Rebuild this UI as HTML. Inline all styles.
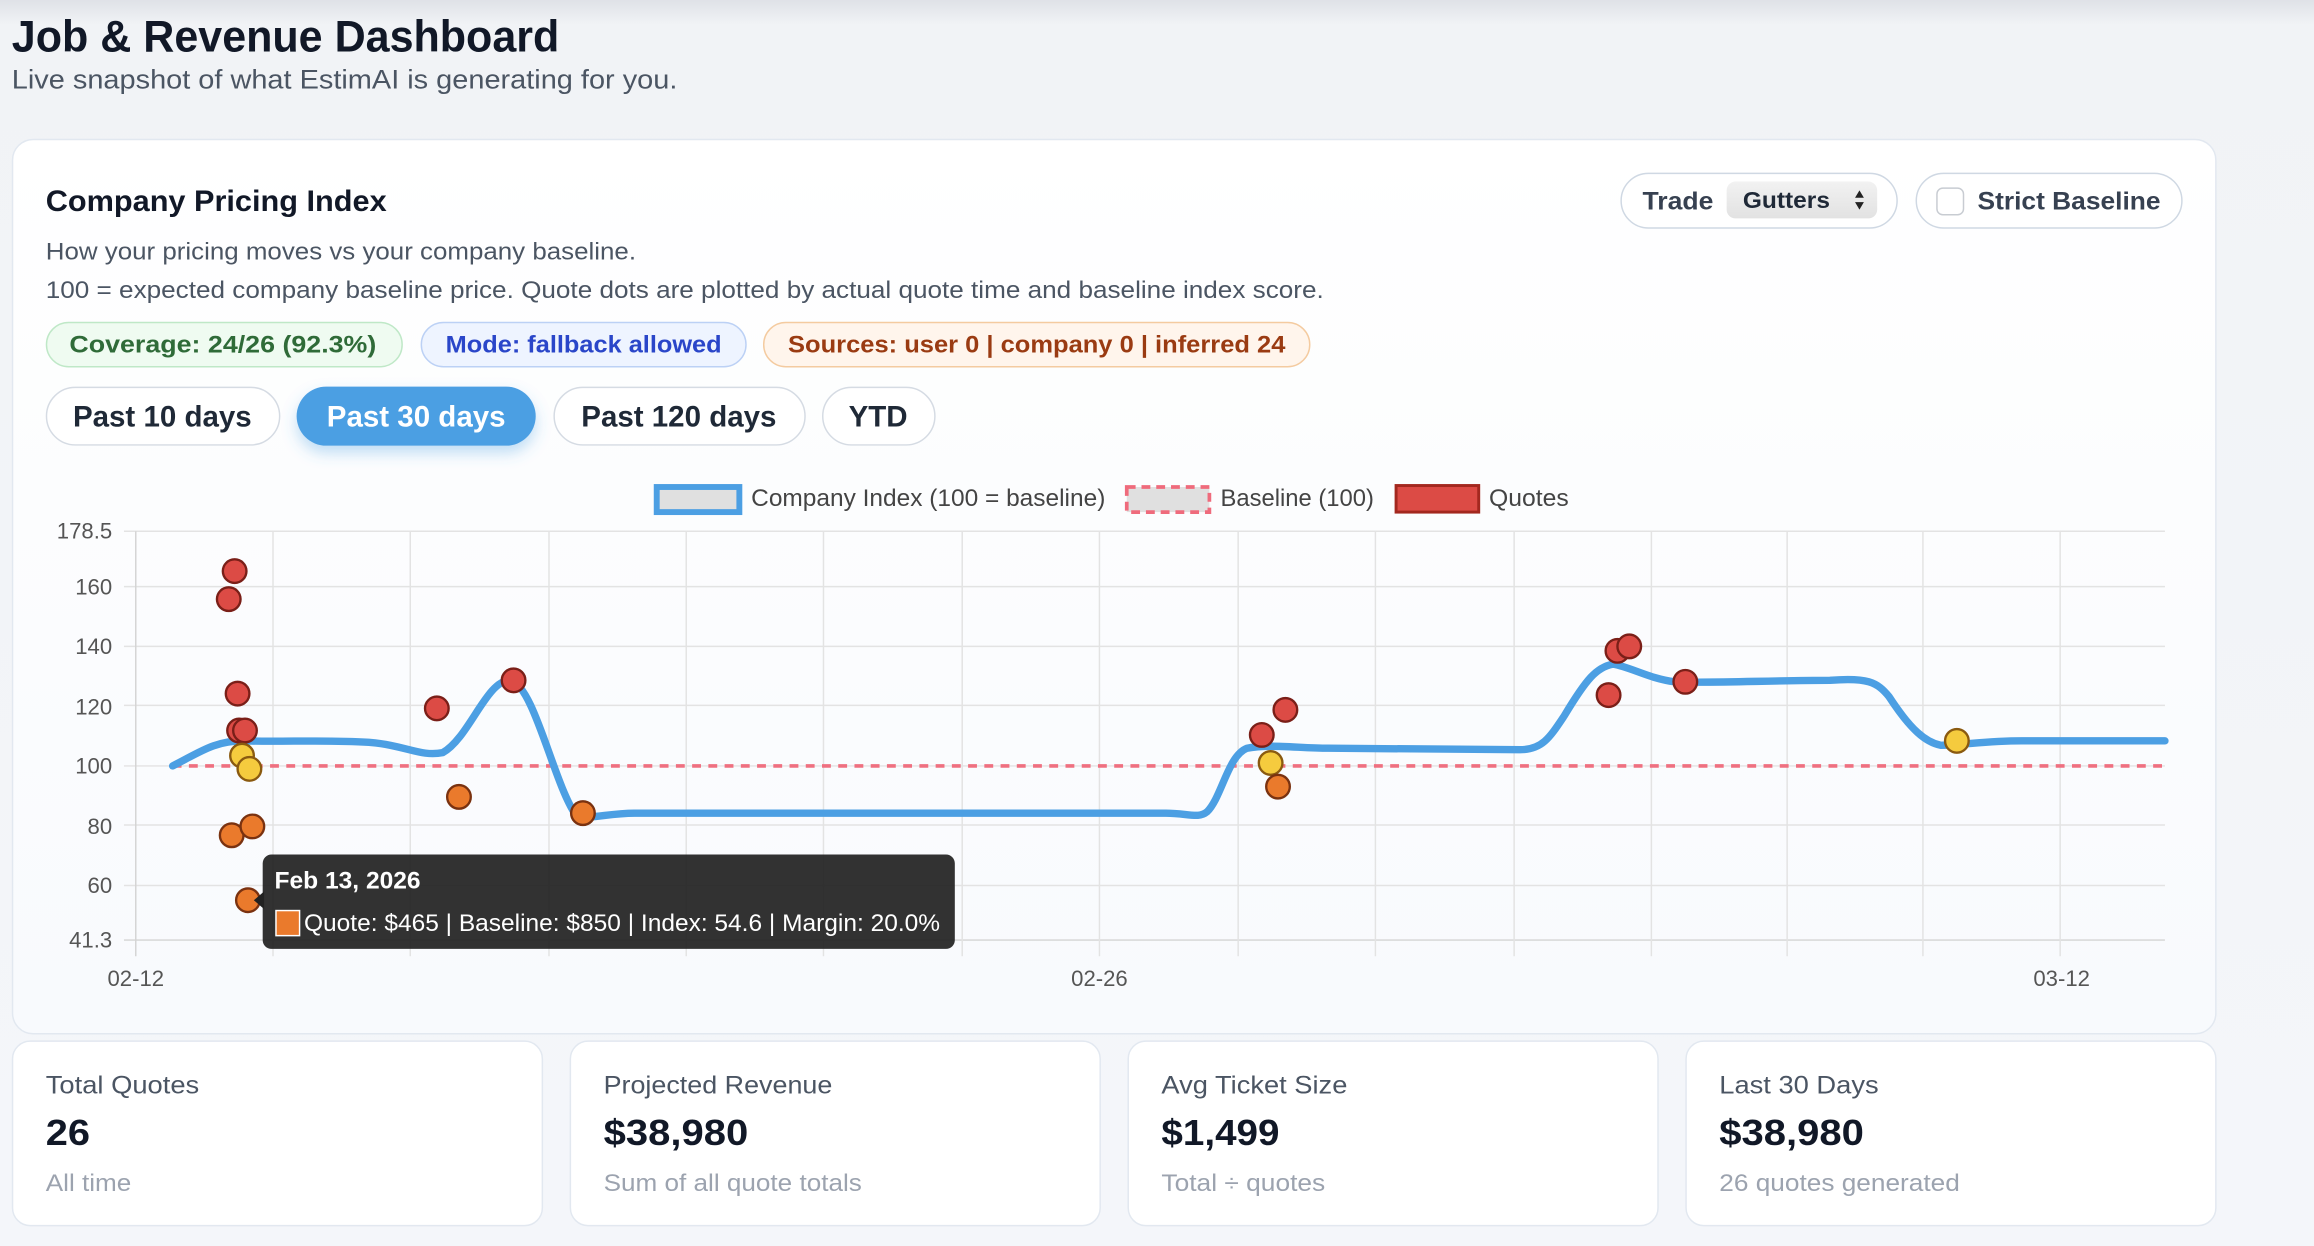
<!DOCTYPE html>
<html><head><meta charset="utf-8"><style>
html,body{margin:0;padding:0;width:2314px;height:1246px;overflow:hidden;background:#f5f7fa}
svg{display:block}
text{font-family:"Liberation Sans",sans-serif}
</style></head><body>
<svg width="2314" height="1246" viewBox="0 0 1568 844.3" xmlns="http://www.w3.org/2000/svg">
<defs>
<linearGradient id="bg" x1="0" y1="0" x2="0" y2="1"><stop offset="0" stop-color="#dfe2e7"/><stop offset="0.02" stop-color="#f1f3f6"/><stop offset="1" stop-color="#f4f6fa"/></linearGradient>
<linearGradient id="card" x1="0" y1="0" x2="0" y2="1"><stop offset="0" stop-color="#ffffff"/><stop offset="1" stop-color="#f8fafd"/></linearGradient>
<linearGradient id="sel" x1="0" y1="0" x2="0" y2="1"><stop offset="0" stop-color="#f2f2f2"/><stop offset="1" stop-color="#e2e2e2"/></linearGradient>
<filter id="sh" x="-30%" y="-50%" width="160%" height="220%"><feDropShadow dx="0" dy="5" stdDeviation="5" flood-color="#4c9fe3" flood-opacity="0.35"/></filter>
</defs>
<rect width="1568" height="844.3" fill="url(#bg)"/>
<text x="8" y="35" font-size="30" font-weight="700" fill="#111827" textLength="371" lengthAdjust="spacingAndGlyphs">Job &amp; Revenue Dashboard</text>
<text x="8" y="60" font-size="18" fill="#4b5563" textLength="451" lengthAdjust="spacingAndGlyphs">Live snapshot of what EstimAI is generating for you.</text>

<rect x="8.5" y="94.5" width="1493" height="606" rx="14" fill="url(#card)" stroke="#e2e8f0"/>
<text x="31" y="143" font-size="20" font-weight="700" fill="#111827" textLength="231" lengthAdjust="spacingAndGlyphs">Company Pricing Index</text>
<text x="31" y="176" font-size="16.5" fill="#4b5563" textLength="400" lengthAdjust="spacingAndGlyphs">How your pricing moves vs your company baseline.</text>
<text x="31" y="202" font-size="16.5" fill="#4b5563" textLength="866" lengthAdjust="spacingAndGlyphs">100 = expected company baseline price. Quote dots are plotted by actual quote time and baseline index score.</text>

<rect x="31.5" y="218.5" width="241" height="30" rx="15" fill="#effbf1" stroke="#bfe8c7"/>
<text x="47" y="239" font-size="16.5" font-weight="600" fill="#2f6b38" textLength="208" lengthAdjust="spacingAndGlyphs">Coverage: 24/26 (92.3%)</text>
<rect x="285.5" y="218.5" width="220" height="30" rx="15" fill="#eef4ff" stroke="#bcd1f5"/>
<text x="302" y="239" font-size="16.5" font-weight="600" fill="#2a46c9" textLength="187" lengthAdjust="spacingAndGlyphs">Mode: fallback allowed</text>
<rect x="517.5" y="218.5" width="370" height="30" rx="15" fill="#fff5ec" stroke="#f4cba0"/>
<text x="534" y="239" font-size="16.5" font-weight="600" fill="#9a3b12" textLength="337" lengthAdjust="spacingAndGlyphs">Sources: user 0 | company 0 | inferred 24</text>

<rect x="31.5" y="262.5" width="158" height="39" rx="19.5" fill="#fff" stroke="#d5dbe3"/>
<text x="110" y="289" font-size="20" font-weight="600" fill="#1f2937" text-anchor="middle">Past 10 days</text>
<rect x="201" y="262" width="162" height="40" rx="20" fill="#4c9fe3" filter="url(#sh)"/>
<text x="282" y="289" font-size="20" font-weight="600" fill="#fff" text-anchor="middle">Past 30 days</text>
<rect x="375.5" y="262.5" width="170" height="39" rx="19.5" fill="#fff" stroke="#d5dbe3"/>
<text x="460" y="289" font-size="20" font-weight="600" fill="#1f2937" text-anchor="middle">Past 120 days</text>
<rect x="557.5" y="262.5" width="76" height="39" rx="19.5" fill="#fff" stroke="#d5dbe3"/>
<text x="595" y="289" font-size="20" font-weight="600" fill="#1f2937" text-anchor="middle">YTD</text>

<rect x="1098.5" y="117.5" width="187" height="37" rx="18.5" fill="#fff" stroke="#cfd8e3"/>
<text x="1113" y="142" font-size="17" font-weight="600" fill="#374151" textLength="48" lengthAdjust="spacingAndGlyphs">Trade</text>
<rect x="1170" y="123" width="102" height="25" rx="6" fill="url(#sel)"/>
<text x="1181" y="141" font-size="15.5" font-weight="700" fill="#1f2937" textLength="59" lengthAdjust="spacingAndGlyphs">Gutters</text>
<path d="M1257 134 l3 -5 l3 5z M1257 137 l3 5 l3 -5z" fill="#222"/>
<rect x="1298.5" y="117.5" width="180" height="37" rx="18.5" fill="#fff" stroke="#cfd8e3"/>
<rect x="1312.5" y="127.5" width="18" height="18" rx="4" fill="#fff" stroke="#c8ccd2"/>
<text x="1340" y="142" font-size="17" font-weight="600" fill="#374151" textLength="124" lengthAdjust="spacingAndGlyphs">Strict Baseline</text>

<!-- legend -->
<rect x="445" y="330" width="56" height="17" fill="#e0e0e0" stroke="#4c9fe3" stroke-width="4"/>
<text x="509" y="343" font-size="16" fill="#444" textLength="240" lengthAdjust="spacingAndGlyphs">Company Index (100 = baseline)</text>
<rect x="763.5" y="330" width="56" height="17" fill="#e0e0e0" stroke="#ef6b7c" stroke-width="2.5" stroke-dasharray="6 4"/>
<text x="827" y="343" font-size="16" fill="#444" textLength="104" lengthAdjust="spacingAndGlyphs">Baseline (100)</text>
<rect x="946" y="329" width="56" height="18" fill="#dc4b45" stroke="#a3281f" stroke-width="2"/>
<text x="1009" y="343" font-size="16" fill="#444" textLength="54" lengthAdjust="spacingAndGlyphs">Quotes</text>

<!-- grid -->
<g stroke="#e3e3e3" stroke-width="1">
<line x1="84" y1="360" x2="1467" y2="360"/>
<line x1="84" y1="397.5" x2="1467" y2="397.5"/>
<line x1="84" y1="438" x2="1467" y2="438"/>
<line x1="84" y1="478" x2="1467" y2="478"/>
<line x1="84" y1="519" x2="1467" y2="519"/>
<line x1="84" y1="559" x2="1467" y2="559"/>
<line x1="84" y1="600" x2="1467" y2="600"/>
<line x1="84" y1="637" x2="1467" y2="637" stroke="#d4d4d4"/>
</g>
<g stroke="#e3e3e3" stroke-width="1">
<line x1="92" y1="360" x2="92" y2="648" stroke="#d4d4d4"/>
<line x1="185" y1="360" x2="185" y2="648"/><line x1="278" y1="360" x2="278" y2="648"/>
<line x1="372" y1="360" x2="372" y2="648"/><line x1="465" y1="360" x2="465" y2="648"/>
<line x1="558" y1="360" x2="558" y2="648"/><line x1="652" y1="360" x2="652" y2="648"/>
<line x1="745" y1="360" x2="745" y2="648"/><line x1="839" y1="360" x2="839" y2="648"/>
<line x1="932" y1="360" x2="932" y2="648"/><line x1="1026" y1="360" x2="1026" y2="648"/>
<line x1="1119" y1="360" x2="1119" y2="648"/><line x1="1211" y1="360" x2="1211" y2="648"/>
<line x1="1303" y1="360" x2="1303" y2="648"/><line x1="1396" y1="360" x2="1396" y2="648"/>
</g>
<g font-size="15" fill="#555" text-anchor="end">
<text x="76" y="365">178.5</text><text x="76" y="403">160</text><text x="76" y="443">140</text>
<text x="76" y="484">120</text><text x="76" y="524">100</text><text x="76" y="565">80</text>
<text x="76" y="605">60</text><text x="76" y="642">41.3</text>
</g>
<g font-size="15" fill="#555" text-anchor="middle">
<text x="92" y="668">02-12</text><text x="745" y="668">02-26</text><text x="1397" y="668">03-12</text>
</g>

<line x1="117" y1="519" x2="1467" y2="519" stroke="#ef7080" stroke-width="2.5" stroke-dasharray="6 5"/>
<path d="M117 519 C135 510 145 502 165 502 C190 503 220 501 250 503 C275 505 285 513 300 510 C318 500 330 460 346 461 C362 465 375 530 390 552 C400 556 410 551 430 551 L790 551 C805 551 812 555 818 550 C828 540 832 512 845 507 C860 504 880 507 900 507 L1030 508 C1045 508 1050 500 1060 485 C1075 460 1082 452 1093 450 C1105 452 1118 460 1135 462 C1160 463 1200 461 1240 461 C1265 459 1272 462 1280 472 C1295 495 1305 503 1315 505 C1330 505 1345 502 1370 502 L1467 502" fill="none" stroke="#4c9fe3" stroke-width="5" stroke-linejoin="round" stroke-linecap="round"/>

<g stroke-width="1.6">
<g fill="#dc4b45" stroke="#7a1f18">
<circle cx="159" cy="387" r="8"/><circle cx="155" cy="406" r="8"/><circle cx="161" cy="470" r="8"/>
<circle cx="162" cy="495" r="8"/><circle cx="166" cy="495" r="8"/>
<circle cx="296" cy="480" r="8"/><circle cx="348" cy="461" r="8"/>
<circle cx="855" cy="498" r="8"/><circle cx="871" cy="481" r="8"/>
<circle cx="1096" cy="441" r="8"/><circle cx="1104" cy="438" r="8"/><circle cx="1090" cy="471" r="8"/><circle cx="1142" cy="462" r="8"/>
</g>
<g fill="#f5cb3e" stroke="#8a5a10">
<circle cx="164" cy="512" r="8"/><circle cx="169" cy="521" r="8"/><circle cx="861" cy="517" r="8"/><circle cx="1326" cy="502" r="8"/>
</g>
<g fill="#ea7a2c" stroke="#7a3210">
<circle cx="157" cy="566" r="8"/><circle cx="171" cy="560" r="8"/><circle cx="168" cy="610" r="8"/>
<circle cx="311" cy="540" r="8"/><circle cx="395" cy="551" r="8"/><circle cx="866" cy="533" r="8"/>
</g>
</g>

<!-- tooltip -->
<path d="M172 610 L179 604 L179 616z" fill="#222"/>
<rect x="178" y="579" width="469" height="64" rx="6" fill="#222" fill-opacity="0.93"/>
<text x="186" y="602" font-size="16" font-weight="700" fill="#fff" textLength="99" lengthAdjust="spacingAndGlyphs">Feb 13, 2026</text>
<rect x="187" y="617" width="16" height="17" fill="#ea7a2c" stroke="#fff" stroke-width="1"/>
<text x="206" y="631" font-size="16" fill="#fff" textLength="431" lengthAdjust="spacingAndGlyphs">Quote: $465 | Baseline: $850 | Index: 54.6 | Margin: 20.0%</text>

<!-- stat cards -->
<g>
<rect x="8.5" y="705.5" width="359" height="125" rx="12" fill="#fff" stroke="#e2e8f0"/>
<rect x="386.5" y="705.5" width="359" height="125" rx="12" fill="#fff" stroke="#e2e8f0"/>
<rect x="764.5" y="705.5" width="359" height="125" rx="12" fill="#fff" stroke="#e2e8f0"/>
<rect x="1142.5" y="705.5" width="359" height="125" rx="12" fill="#fff" stroke="#e2e8f0"/>
</g>
<g font-size="17" fill="#4b5563">
<text x="31" y="741" textLength="104" lengthAdjust="spacingAndGlyphs">Total Quotes</text><text x="409" y="741" textLength="155" lengthAdjust="spacingAndGlyphs">Projected Revenue</text>
<text x="787" y="741" textLength="126" lengthAdjust="spacingAndGlyphs">Avg Ticket Size</text><text x="1165" y="741" textLength="108" lengthAdjust="spacingAndGlyphs">Last 30 Days</text>
</g>
<g font-size="24.5" font-weight="700" fill="#111827">
<text x="31" y="776" textLength="30" lengthAdjust="spacingAndGlyphs">26</text><text x="409" y="776" textLength="98" lengthAdjust="spacingAndGlyphs">$38,980</text>
<text x="787" y="776" textLength="80" lengthAdjust="spacingAndGlyphs">$1,499</text><text x="1165" y="776" textLength="98" lengthAdjust="spacingAndGlyphs">$38,980</text>
</g>
<g font-size="16.5" fill="#9ca3af">
<text x="31" y="807" textLength="58" lengthAdjust="spacingAndGlyphs">All time</text><text x="409" y="807" textLength="175" lengthAdjust="spacingAndGlyphs">Sum of all quote totals</text>
<text x="787" y="807" textLength="111" lengthAdjust="spacingAndGlyphs">Total ÷ quotes</text><text x="1165" y="807" textLength="163" lengthAdjust="spacingAndGlyphs">26 quotes generated</text>
</g>
</svg>
</body></html>
